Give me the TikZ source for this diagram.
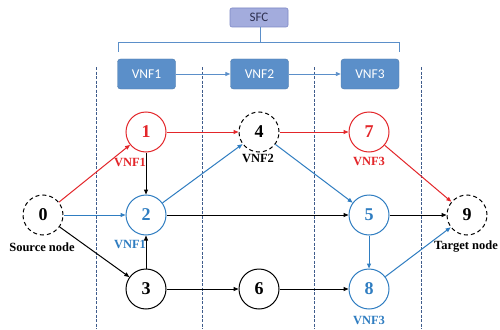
\documentclass[tikz,border=0pt]{standalone}
\usepackage{fontspec}
\setmainfont{Liberation Serif}
\newfontfamily\uisans{Carlito}
\usetikzlibrary{arrows.meta}
\definecolor{pathred}{HTML}{E3262A}
\definecolor{pathblue}{HTML}{2F7DC1}
\definecolor{vnfblue}{HTML}{5B8FC9}
\definecolor{sfcfill}{HTML}{A3ACDD}
\definecolor{sfcedge}{HTML}{7E88C6}
\definecolor{sfctext}{HTML}{2E3050}
\definecolor{sepline}{HTML}{3F5C8C}
\tikzset{
  vertex/.style={circle, draw, line width=1pt, minimum size=40pt, inner sep=0pt,
    font=\fontsize{18}{18}\selectfont\bfseries},
  dashvertex/.style={vertex, dashed, dash pattern=on 4pt off 3pt},
  redvertex/.style={vertex, draw=pathred, text=pathred},
  bluevertex/.style={vertex, draw=pathblue, text=pathblue},
  vnfbox/.style={rectangle, rounded corners=3pt, fill=vnfblue, draw=vnfblue!85!black,
    line width=0.4pt, minimum width=58pt, minimum height=30pt, text=white,
    font=\uisans\fontsize{13.5}{13.5}\selectfont},
  sfcbox/.style={rectangle, rounded corners=2pt, fill=sfcfill, draw=sfcedge,
    line width=0.6pt, minimum width=58pt, minimum height=19pt, text=sfctext,
    font=\uisans\fontsize{13}{13}\selectfont},
  tag/.style={font=\fontsize{12.5}{12.5}\selectfont\bfseries, inner sep=0pt},
  edge/.style={-{Triangle[length=5pt,width=4pt]}, line width=1pt},
  chainlink/.style={vnfblue, line width=0.9pt, -{Triangle[length=5pt,width=4pt]}},
  bracket/.style={vnfblue, line width=1pt},
  sep/.style={draw=sepline, line width=0.9pt, dash pattern=on 3pt off 1.5pt},
}
\begin{document}
\begin{tikzpicture}[x=1pt, y=-1pt]
\useasboundingbox (0,0) rectangle (500,329);
\fill[white] (0,0) rectangle (500,329);

% stage separators
\foreach \sx/\sn in {96/a,202/b,314/c,421/d}{
  \coordinate (top\sn) at (\sx,67);
  \coordinate (bot\sn) at (\sx,329);
  \draw[sep] (top\sn) -- (bot\sn);
}

% service function chain
\node[sfcbox] (sfc) at (259,17.5) {SFC};
\node[vnfbox] (f1) at (146.5,74) {VNF1};
\node[vnfbox] (f2) at (259.5,74) {VNF2};
\node[vnfbox] (f3) at (370,74) {VNF3};
\coordinate (bl) at (118,52);
\coordinate (br) at (399,52);
\coordinate (bm) at (260,43);
\draw[bracket] (bl) -- (bl |- bm) -- (br |- bm) -- (br);
\draw[bracket] (bm) -- (sfc.south -| bm);
\draw[chainlink] (f1) -- (f2);
\draw[chainlink] (f2) -- (f3);

% network nodes
\node[dashvertex] (n0) at (43,215) {0};
\node[redvertex] (n1) at (146,132) {1};
\node[bluevertex] (n2) at (146,215) {2};
\node[vertex] (n3) at (146,289) {3};
\node[dashvertex] (n4) at (259,132) {4};
\node[bluevertex] (n5) at (369,215) {5};
\node[vertex] (n6) at (259,289) {6};
\node[redvertex] (n7) at (369,132) {7};
\node[bluevertex] (n8) at (369,289) {8};
\node[dashvertex] (n9) at (467,215) {9};

% node labels
\node[tag, text=pathred] (l1) at (130,162) {VNF1};
\node[tag, text=pathblue] (l2) at (130,244) {VNF1};
\node[tag] (l4) at (258,158) {VNF2};
\node[tag, text=pathred] (l7) at (369,161) {VNF3};
\node[tag, text=pathblue] (l8) at (369,320) {VNF3};
\node[tag] (ls) at (42,247) {Source node};
\node[tag] (lt) at (466,247) {Target node};

% links
\draw[edge, pathred] (n0) -- (n1);
\draw[edge, pathblue] (n0) -- (n2);
\draw[edge] (n0) -- (n3);
\draw[edge, pathred] (n1) -- (n4);
\draw[edge] (n1) -- (n2);
\draw[edge, pathblue] (n2) -- (n4);
\draw[edge] (n2) -- (n5);
\draw[edge] (n3) -- (n2);
\draw[edge] (n3) -- (n6);
\draw[edge, pathred] (n4) -- (n7);
\draw[edge, pathblue] (n4) -- (n5);
\draw[edge] (n5) -- (n9);
\draw[edge, pathblue] (n5) -- (n8);
\draw[edge] (n6) -- (n8);
\draw[edge, pathred] (n7) -- (n9);
\draw[edge, pathblue] (n8) -- (n9);
\end{tikzpicture}
\end{document}
